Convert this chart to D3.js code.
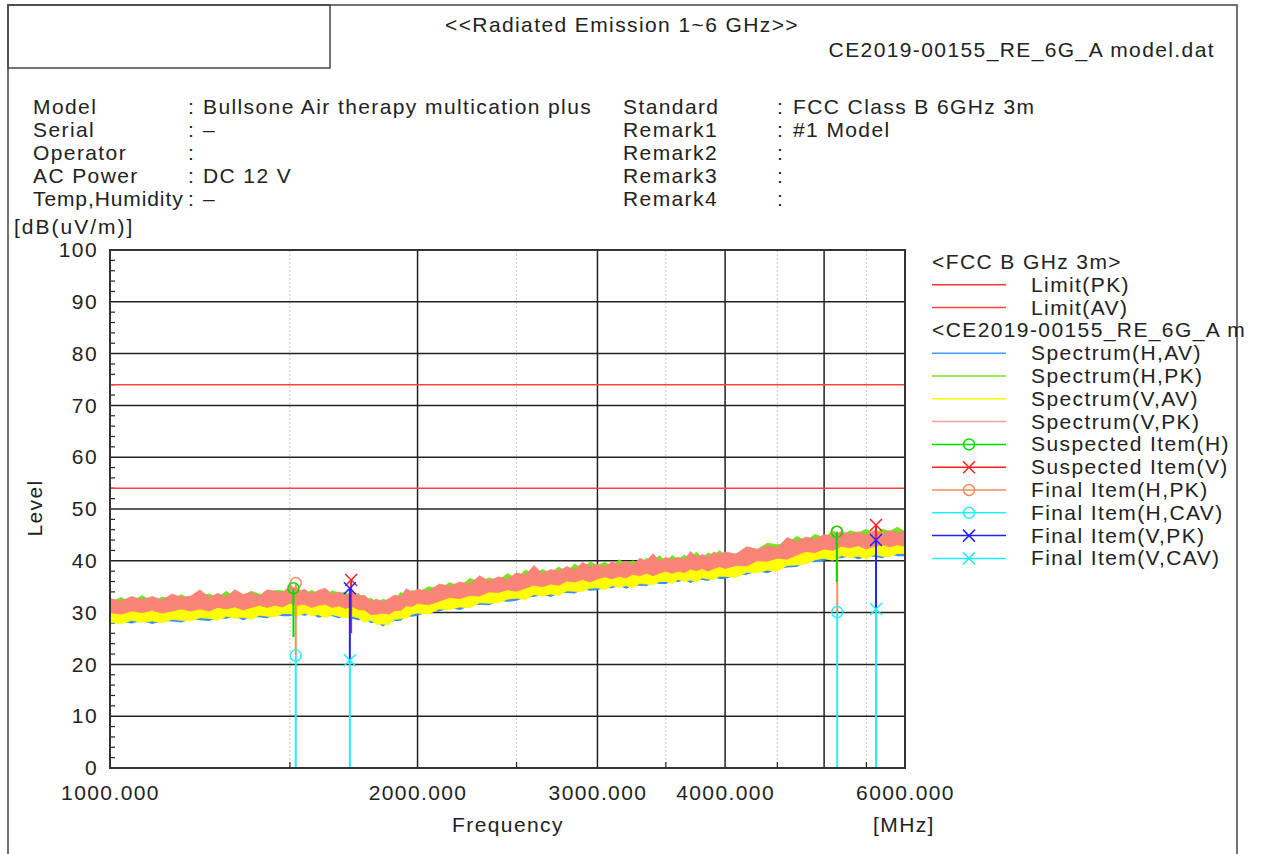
<!DOCTYPE html>
<html>
<head>
<meta charset="utf-8">
<script src="https://cdn.jsdelivr.net/npm/d3@7"></script>
<style>
  body { margin: 0; background: #fff; }
  text { font-family: "Liberation Sans", Arial, sans-serif; fill: #222; letter-spacing: 1.4px; }
</style>
</head>
<body>
<div id="chart"></div>
<script>
// sweep frequencies (MHz)
var freqs = [1000,1025,1050,1075,1100,1125,1150,1175,1200,1225,1250,1275,1300,1325,1350,1375,1400,1425,1450,1475,
  1500,1525,1550,1575,1600,1625,1650,1675,1700,1725,1750,1775,1800,1825,1850,1875,1900,1925,1950,1975,2000,
  2050,2100,2150,2200,2250,2300,2350,2400,2450,2500,2550,2600,2650,2700,2750,2800,2850,2900,2950,3000,
  3050,3100,3150,3200,3250,3300,3350,3400,3450,3500,3550,3600,3650,3700,3750,3800,3850,3900,3950,4000,
  4100,4200,4300,4400,4500,4600,4700,4800,4900,5000,5100,5200,5300,5400,5500,5600,5700,5800,5900,6000];

// spectrum traces, max / min of the sweep at each frequency (dBuV/m)
var hAV_max = [29.6,29.8,29.6,29.9,29.8,30.1,29.9,30.2,30.1,30.4,30.2,30.5,30.4,30.7,30.5,30.8,30.7,31.0,30.9,31.2,
  31.1,31.3,31.0,31.2,31.0,31.1,30.8,31.0,30.7,30.7,30.3,30.1,29.6,29.5,29.2,29.7,29.9,30.5,30.6,31.1,31.2,
  31.7,31.8,32.4,32.5,33.0,33.1,33.5,33.6,34.0,34.1,34.5,34.6,35.0,35.0,35.4,35.4,35.8,35.8,36.1,36.1,
  36.4,36.3,36.7,36.6,36.9,36.8,37.2,37.1,37.4,37.3,37.6,37.5,37.8,37.7,38.0,37.9,38.2,38.1,38.4,38.3,
  38.8,38.9,39.5,39.6,40.1,40.3,40.9,41.1,41.6,41.8,42.1,42.1,42.4,42.3,42.5,42.4,42.6,42.5,42.8,42.7];
var hAV_min = [27.7,28.2,27.9,28.4,27.8,28.4,28.3,28.1,28.8,28.5,28.4,28.9,28.8,29.2,28.5,29.1,29.1,28.9,29.6,29.3,
  29.3,29.7,29.4,29.7,29.0,29.4,29.3,28.9,29.4,28.8,28.5,28.6,28.0,28.0,27.3,28.0,28.4,28.4,29.3,29.2,29.4,
  30.1,30.2,30.9,30.5,31.3,31.5,31.4,32.3,32.1,32.3,32.9,33.0,33.5,33.0,33.7,33.8,33.7,34.5,34.2,34.3,
  34.8,34.7,35.2,34.6,35.2,35.2,35.1,35.8,35.5,35.5,36.0,35.9,36.3,35.7,36.3,36.3,36.1,36.8,36.5,36.5,
  37.2,37.3,38.0,37.6,38.4,38.7,38.8,39.8,39.7,40.0,40.5,40.5,40.9,40.3,40.8,40.8,40.5,41.2,40.9,40.9];

var hPK_max = [32.0,32.9,32.0,33.3,32.1,33.0,32.6,33.5,32.3,33.2,33.6,32.9,34.1,32.9,33.3,34.1,33.6,33.1,34.3,34.2,
  33.8,34.7,33.5,34.3,33.6,33.3,34.2,33.8,33.9,33.0,33.8,32.2,32.8,31.9,32.6,32.2,32.4,33.9,33.4,34.3,33.8,
  35.0,34.5,35.8,35.0,36.6,35.9,36.7,36.2,37.5,36.6,38.2,37.5,38.3,37.7,38.8,37.8,39.4,38.4,39.8,39.1,
  39.7,38.9,40.2,39.4,40.0,39.4,40.5,40.0,41.0,39.8,41.0,40.3,41.1,40.4,41.7,40.5,41.5,41.0,42.0,41.0,
  41.2,42.6,42.2,43.4,43.1,43.3,44.7,43.9,45.1,44.4,45.8,44.8,45.8,45.4,46.1,45.2,46.1,45.7,46.5,45.6];
var hPK_min = [30.4,30.1,30.3,30.7,30.2,30.7,30.4,30.9,30.6,31.0,30.7,31.2,30.9,31.4,31.0,31.5,31.2,31.7,31.4,31.9,
  31.6,32.0,31.5,31.9,31.5,31.8,31.3,31.7,31.2,31.4,30.8,30.8,30.1,30.2,29.7,30.4,30.4,31.2,31.1,31.8,31.7,
  32.4,32.3,33.1,33.0,33.7,33.6,34.2,34.1,34.7,34.6,35.2,35.1,35.7,35.5,36.1,35.9,36.5,36.3,36.8,36.6,
  37.1,36.8,37.4,37.1,37.6,37.3,37.9,37.6,38.1,37.8,38.3,38.0,38.5,38.2,38.7,38.4,38.9,38.6,39.1,38.8,
  39.5,39.4,40.2,40.1,40.8,40.8,41.6,41.6,42.3,42.3,42.8,42.6,43.1,42.8,43.2,42.9,43.3,43.0,43.5,43.2];

var vAV_max = [30.4,30.3,30.5,30.5,30.7,30.6,30.8,30.8,31.0,30.9,31.1,31.0,31.3,31.2,31.4,31.3,31.6,31.5,31.8,31.7,
  32.0,31.8,31.9,31.7,31.9,31.6,31.7,31.5,31.6,31.2,31.2,30.6,30.5,30.0,30.1,30.2,30.8,31.0,31.5,31.6,32.1,
  32.2,32.7,32.9,33.4,33.5,34.0,34.0,34.5,34.5,35.0,35.0,35.5,35.5,35.9,35.9,36.3,36.3,36.7,36.6,37.0,
  36.9,37.2,37.2,37.5,37.4,37.7,37.7,38.0,37.9,38.2,38.1,38.4,38.3,38.6,38.5,38.8,38.7,39.0,38.9,39.2,
  39.3,39.8,40.0,40.5,40.6,41.2,41.4,42.0,42.1,42.7,42.6,43.0,42.9,43.2,43.0,43.3,43.1,43.4,43.3,43.6];
var vAV_min = [28.2,27.8,28.5,28.1,28.4,28.0,28.7,28.5,28.4,29.0,28.9,28.5,29.3,28.9,29.1,28.7,29.5,29.3,29.2,29.8,
  29.8,29.3,29.9,29.4,29.6,29.0,29.6,29.3,29.0,29.3,29.0,28.1,28.5,27.7,27.8,27.6,28.7,28.8,28.9,29.7,29.9,
  29.7,30.7,30.6,31.1,30.9,31.9,31.8,31.9,32.6,32.8,32.5,33.5,33.2,33.6,33.3,34.2,34.1,34.1,34.7,34.8,
  34.4,35.2,34.9,35.2,34.8,35.6,35.5,35.4,36.0,36.0,35.6,36.4,36.0,36.3,35.9,36.7,36.5,36.4,37.0,37.0,
  36.8,37.8,37.7,38.2,38.0,39.1,39.2,39.4,40.2,40.5,40.1,41.0,40.6,40.9,40.4,41.2,40.9,40.8,41.4,41.4];

var vPK_max = [32.7,32.2,33.1,32.5,33.1,32.4,33.6,32.9,33.2,34.4,32.9,33.7,33.0,34.4,33.5,33.9,33.2,34.4,34.1,33.8,
  35.2,34.0,34.5,33.6,34.3,34.7,33.5,34.0,33.2,34.1,33.3,33.3,32.2,32.6,32.0,32.7,33.4,33.0,34.6,34.0,34.5,
  34.1,35.5,35.1,35.9,35.5,37.1,36.1,36.9,36.4,37.7,37.2,39.1,37.5,38.3,38.0,38.9,38.2,39.7,38.9,39.3,
  38.8,39.8,39.3,39.9,39.2,40.5,39.9,41.4,39.9,40.7,40.2,40.7,40.2,41.8,40.7,41.2,40.7,41.7,41.2,41.7,
  41.3,42.7,42.2,42.9,42.5,44.5,43.7,44.6,44.1,45.1,44.7,45.7,45.1,45.6,44.9,45.9,45.2,45.8,45.3,45.9];
var vPK_min = [30.0,29.7,30.3,30.0,30.4,29.9,30.3,30.7,30.3,30.7,30.3,31.0,30.7,31.1,30.5,31.0,31.4,31.0,31.4,31.1,
  31.8,31.4,31.6,31.0,31.4,31.6,31.0,31.3,30.8,31.2,30.6,30.5,29.6,29.7,29.9,29.7,30.4,30.4,31.3,31.2,31.8,
  31.5,32.2,32.9,32.7,33.3,33.2,34.0,33.9,34.4,34.1,34.7,35.3,35.0,35.5,35.3,36.1,35.9,36.4,35.9,36.5,
  36.9,36.5,37.0,36.7,37.4,37.1,37.6,37.1,37.6,38.0,37.6,38.0,37.7,38.4,38.1,38.5,38.0,38.5,38.9,38.5,
  39.1,39.0,40.0,39.9,40.5,40.3,41.1,41.8,41.6,42.3,42.0,42.8,42.5,42.9,42.3,42.8,43.1,42.7,43.1,42.8];

// limits
var limitPK = 74;
var limitAV = 54;

// marker items: frequency, level, lower end of the stem
var finalHPK_f = [1520, 5150], finalHPK_v = [35.7, 45.6], finalHPK_b = [21.7, 30.1];
var suspH_f = [1512, 5145], suspH_v = [34.7, 45.6], suspH_b = [25.3, 35.9];
var finalHCAV_f = [1520, 5150], finalHCAV_v = [21.7, 30.1], finalHCAV_b = [0, 0];
var suspV_f = [1722, 5620], suspV_v = [36.3, 46.9], suspV_b = [26.0, 44.0];
var finalVPK_f = [1717, 5620], finalVPK_v = [34.7, 44.0], finalVPK_b = [20.8, 30.7];
var finalVCAV_f = [1717, 5620], finalVCAV_v = [20.8, 30.7], finalVCAV_b = [0, 0];

var yTicks = [0,10,20,30,40,50,60,70,80,90,100];
var xTickValues = [1000, 2000, 3000, 4000, 6000];
var xTickLabels = ["1000.000", "2000.000", "3000.000", "4000.000", "6000.000"];
var xMajorGrid = [2000, 3000, 4000, 5000];
var xMinorGrid = [1500, 2500, 3500, 4500, 5500];

var headerLeft = ["Model", "Serial", "Operator", "AC Power", "Temp,Humidity"];
var headerLeftVal = ["Bullsone Air therapy multication plus", "\u2013", "", "DC 12 V", "\u2013"];
var headerRight = ["Standard", "Remark1", "Remark2", "Remark3", "Remark4"];
var headerRightVal = ["FCC Class B 6GHz 3m", "#1 Model", "", "", ""];

var legendItems = [
  {label: "<FCC B GHz 3m>", head: true},
  {label: "Limit(PK)", color: "#ff3333"},
  {label: "Limit(AV)", color: "#ff4444"},
  {label: "<CE2019-00155_RE_6G_A m", head: true},
  {label: "Spectrum(H,AV)", color: "#4499ff"},
  {label: "Spectrum(H,PK)", color: "#77e020"},
  {label: "Spectrum(V,AV)", color: "#ffff00"},
  {label: "Spectrum(V,PK)", color: "#ff9c9c"},
  {label: "Suspected Item(H)", color: "#00dd00", sym: "o"},
  {label: "Suspected Item(V)", color: "#ff2020", sym: "x"},
  {label: "Final Item(H,PK)", color: "#ff8c5a", sym: "o"},
  {label: "Final Item(H,CAV)", color: "#22eeff", sym: "o"},
  {label: "Final Item(V,PK)", color: "#2222ff", sym: "x"},
  {label: "Final Item(V,CAV)", color: "#22eeff", sym: "x"}
];

var W = 1264, H = 854;
var plot = {left: 110, right: 905, top: 250, bottom: 768};

var svg = d3.select("#chart").append("svg")
  .attr("width", W).attr("height", H);

var x = d3.scaleLog().domain([1000, 6000]).range([plot.left, plot.right]);
var y = d3.scaleLinear().domain([0, 100]).range([plot.bottom, plot.top]);

// outer frame
svg.append("path")
  .attr("d", "M8,854 L8,5 L1237,5 L1237,854")
  .attr("fill", "none").attr("stroke", "#444").attr("stroke-width", 1.5);
svg.append("rect").attr("x", 8).attr("y", 5).attr("width", 322).attr("height", 63)
  .attr("fill", "none").attr("stroke", "#444").attr("stroke-width", 1.5);

svg.append("text").attr("x", 622).attr("y", 32).attr("text-anchor", "middle")
  .style("font-size", "21px").text("<<Radiated Emission 1~6 GHz>>");
svg.append("text").attr("x", 1215).attr("y", 57).attr("text-anchor", "end")
  .style("font-size", "21px").text("CE2019-00155_RE_6G_A model.dat");

// header block
var hdr = svg.append("g").style("font-size", "21px");
headerLeft.forEach(function(t, i) {
  var yy = 114 + i * 23;
  hdr.append("text").attr("x", 33).attr("y", yy)
    .style("letter-spacing", i === 4 ? "0.9px" : null).text(t);
  hdr.append("text").attr("x", 188).attr("y", yy).text(":");
  hdr.append("text").attr("x", 203).attr("y", yy).text(headerLeftVal[i]);
  hdr.append("text").attr("x", 623).attr("y", yy).text(headerRight[i]);
  hdr.append("text").attr("x", 777).attr("y", yy).text(":");
  hdr.append("text").attr("x", 793).attr("y", yy).text(headerRightVal[i]);
});

svg.append("text").attr("x", 14).attr("y", 234).style("font-size", "21px")
  .style("letter-spacing", "2px").text("[dB(uV/m)]");

// grid
var grid = svg.append("g");
grid.selectAll(".minx").data(xMinorGrid).enter().append("line")
  .attr("x1", d => x(d)).attr("x2", d => x(d))
  .attr("y1", plot.top).attr("y2", plot.bottom)
  .attr("stroke", "#c8c8c8").attr("stroke-width", 1).attr("stroke-dasharray", "2,2");
grid.selectAll(".majx").data(xMajorGrid).enter().append("line")
  .attr("x1", d => x(d)).attr("x2", d => x(d))
  .attr("y1", plot.top).attr("y2", plot.bottom)
  .attr("stroke", "#222").attr("stroke-width", 1.5);
grid.selectAll(".majy").data(yTicks.slice(1, -1)).enter().append("line")
  .attr("x1", plot.left).attr("x2", plot.right)
  .attr("y1", d => y(d)).attr("y2", d => y(d))
  .attr("stroke", "#222").attr("stroke-width", 1.5);

// minor ticks
var yMinor = d3.range(0, 101, 2).filter(d => d % 10 !== 0);
grid.selectAll(".ymt").data(yMinor).enter().append("line")
  .attr("x1", plot.left).attr("x2", plot.left + 5)
  .attr("y1", d => y(d)).attr("y2", d => y(d))
  .attr("stroke", "#222").attr("stroke-width", 1.2);
grid.selectAll(".xmt").data(xMinorGrid).enter().append("line")
  .attr("x1", d => x(d)).attr("x2", d => x(d))
  .attr("y1", plot.bottom).attr("y2", plot.bottom - 6)
  .attr("stroke", "#222").attr("stroke-width", 1.2);

// limit lines
svg.selectAll(".limit").data([limitPK, limitAV]).enter().append("line")
  .attr("x1", plot.left).attr("x2", plot.right)
  .attr("y1", d => y(d)).attr("y2", d => y(d))
  .attr("stroke", "#ff4040").attr("stroke-width", 1.5);

// spectra
svg.append("clipPath").attr("id", "plotclip").append("rect")
  .attr("x", plot.left).attr("y", plot.top)
  .attr("width", plot.right - plot.left).attr("height", plot.bottom - plot.top);

var band = d3.area().x(d => x(d.f)).y0(d => y(d.lo)).y1(d => y(d.hi));
var spectra = [
  {hi: hAV_max, lo: hAV_min, color: "#3a90ee", sw: 0},
  {hi: hPK_max, lo: hPK_min, color: "#77e020", sw: 0.8},
  {hi: vAV_max, lo: vAV_min, color: "#ffff00", sw: 0.8},
  {hi: vPK_max, lo: vPK_min, color: "#fa8478", sw: 0.8}
];
var spec = svg.append("g").attr("clip-path", "url(#plotclip)");
spectra.forEach(function(s) {
  spec.append("path")
    .datum(freqs.map((f, i) => ({f: f, hi: s.hi[i], lo: s.lo[i]})))
    .attr("d", band)
    .attr("fill", s.color).attr("stroke", s.sw ? s.color : "none").attr("stroke-width", s.sw);
});

// markers with stems
function symbol(g, cx, cy, sym, color) {
  if (sym === "o") {
    g.append("circle").attr("cx", cx).attr("cy", cy).attr("r", 5.5)
      .attr("fill", "none").attr("stroke", color).attr("stroke-width", 1.5);
  } else {
    g.append("path")
      .attr("d", `M${cx-6},${cy-6}L${cx+6},${cy+6}M${cx-6},${cy+6}L${cx+6},${cy-6}`)
      .attr("stroke", color).attr("stroke-width", 1.5);
  }
}
var items = [
  {f: finalHPK_f, v: finalHPK_v, b: finalHPK_b, color: "#ff8c5a", sym: "o"},
  {f: suspH_f, v: suspH_v, b: suspH_b, color: "#00dd00", sym: "o"},
  {f: finalHCAV_f, v: finalHCAV_v, b: finalHCAV_b, color: "#22eeff", sym: "o"},
  {f: suspV_f, v: suspV_v, b: suspV_b, color: "#ff2020", sym: "x"},
  {f: finalVPK_f, v: finalVPK_v, b: finalVPK_b, color: "#2222ff", sym: "x"},
  {f: finalVCAV_f, v: finalVCAV_v, b: finalVCAV_b, color: "#22eeff", sym: "x"}
];
var mk = svg.append("g");
items.forEach(function(it) {
  it.f.forEach(function(f, i) {
    mk.append("line")
      .attr("x1", x(f)).attr("x2", x(f))
      .attr("y1", y(it.v[i])).attr("y2", y(it.b[i]))
      .attr("stroke", it.color).attr("stroke-width", 2);
  });
});
items.forEach(function(it) {
  it.f.forEach(function(f, i) { symbol(mk, x(f), y(it.v[i]), it.sym, it.color); });
});

// plot border
svg.append("rect").attr("x", plot.left).attr("y", plot.top)
  .attr("width", plot.right - plot.left).attr("height", plot.bottom - plot.top)
  .attr("fill", "none").attr("stroke", "#333").attr("stroke-width", 2);

// axes labels
var yAxis = svg.append("g").attr("transform", `translate(${plot.left},0)`)
  .call(d3.axisLeft(y).tickValues(yTicks).tickSize(0).tickPadding(12));
yAxis.select(".domain").remove();
yAxis.selectAll("text").style("font-size", "21px").style("font-family", "Liberation Sans, Arial, sans-serif").attr("fill", "#222");

var xAxis = svg.append("g").attr("transform", `translate(0,${plot.bottom})`)
  .call(d3.axisBottom(x).tickValues(xTickValues).tickSize(0).tickPadding(17)
    .tickFormat((d, i) => xTickLabels[i]));
xAxis.select(".domain").remove();
xAxis.selectAll("text").style("font-size", "21px").style("font-family", "Liberation Sans, Arial, sans-serif").attr("fill", "#222");

svg.append("text").attr("x", 508).attr("y", 832).attr("text-anchor", "middle")
  .style("font-size", "21px").text("Frequency");
svg.append("text").attr("x", 873).attr("y", 832)
  .style("font-size", "21px").text("[MHz]");
svg.append("text").attr("transform", "translate(42,508) rotate(-90)")
  .attr("text-anchor", "middle").style("font-size", "21px").text("Level");

// legend
var leg = svg.append("g").style("font-size", "21px");
legendItems.forEach(function(it, i) {
  var yy = 262 + i * 22.8;
  if (it.head) {
    leg.append("text").attr("x", 932).attr("y", yy + 7).text(it.label);
    return;
  }
  leg.append("line").attr("x1", 932).attr("x2", 1006).attr("y1", yy).attr("y2", yy)
    .attr("stroke", it.color).attr("stroke-width", 1.5);
  if (it.sym) symbol(leg, 969, yy, it.sym, it.color);
  leg.append("text").attr("x", 1031).attr("y", yy + 7).text(it.label);
});
</script>
</body>
</html>
